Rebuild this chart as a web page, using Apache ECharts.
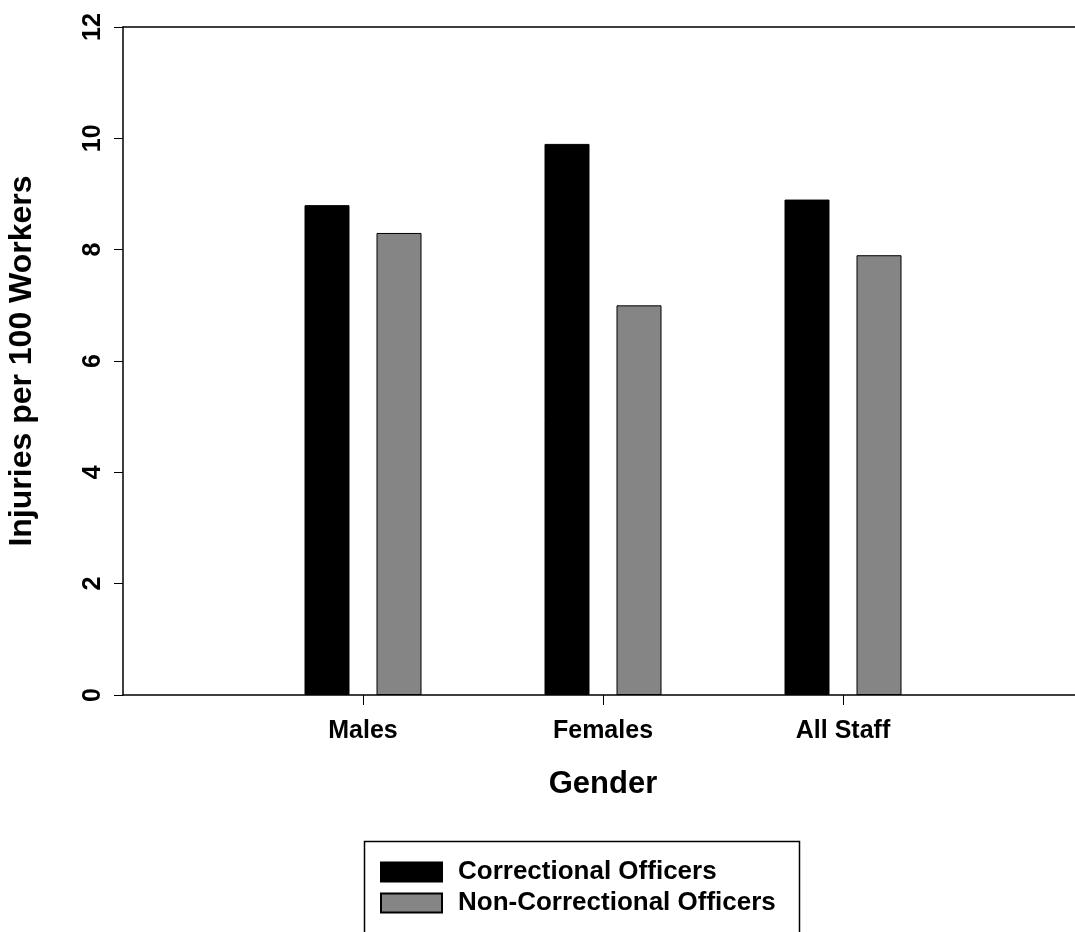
<!DOCTYPE html>
<html>
<head>
<meta charset="utf-8">
<script src="https://cdn.jsdelivr.net/npm/echarts@6/dist/echarts.min.js"></script>
<style>
html,body{margin:0;padding:0;background:#fff;}
#chart{width:1075px;height:932px;}
</style>
</head>
<body>
<div id="chart"></div>
<script>
// Data
const categories = ['', 'Males', 'Females', 'All Staff', ''];
const seriesNames = ['Correctional Officers', 'Non-Correctional Officers'];
const correctionalOfficers = [null, 8.8, 9.9, 8.9, null];
const nonCorrectionalOfficers = [null, 8.3, 7.0, 7.9, null];
const yTicks = [0, 2, 4, 6, 8, 10, 12];

const FONT = '"Liberation Sans", Arial, sans-serif';
const chart = echarts.init(document.getElementById('chart'), null, {renderer: 'canvas'});

chart.setOption({
  animation: false,
  backgroundColor: '#ffffff',
  grid: {
    left: 123, top: 27, width: 960, height: 668,
    outerBoundsMode: 'none',
    containLabel: false,
    show: false
  },
  graphic: [{
    type: 'rect',
    left: 362, top: 839,
    shape: {width: 435, height: 140},
    style: {fill: 'none', stroke: '#000', lineWidth: 1.5},
    silent: true
  }],
  legend: {
    data: seriesNames,
    orient: 'vertical',
    left: 380, top: 859,
    padding: 0,
    itemWidth: 61, itemHeight: 19, itemGap: 5,
    icon: 'rect',
    textStyle: {fontFamily: FONT, fontWeight: 'bold', fontSize: 26, color: '#000', lineHeight: 25, padding: [0, 0, 0, 11]}
  },
  xAxis: [{
    type: 'category',
    data: categories,
    boundaryGap: false,
    name: 'Gender',
    nameLocation: 'middle',
    nameGap: 74,
    nameTextStyle: {fontFamily: FONT, fontWeight: 'bold', fontSize: 31, color: '#000'},
    axisLine: {lineStyle: {color: '#000', width: 1.5}},
    axisTick: {
      show: true, length: 10, lineStyle: {color: '#000', width: 1},
      interval: function (i, v) { return v !== ''; }
    },
    axisLabel: {
      fontFamily: FONT, fontWeight: 'bold', fontSize: 25, color: '#000', margin: 24,
      interval: 0
    },
    splitLine: {show: false}
  }, {
    type: 'category',
    data: categories,
    position: 'top',
    boundaryGap: false,
    axisLine: {show: true, lineStyle: {color: '#000', width: 1.5}},
    axisTick: {show: false},
    axisLabel: {show: false},
    splitLine: {show: false}
  }],
  yAxis: {
    type: 'value',
    min: 0, max: 12, interval: 2,
    name: 'Injuries per 100 Workers',
    nameLocation: 'middle',
    nameGap: 85,
    nameRotate: 90,
    nameTextStyle: {fontFamily: FONT, fontWeight: 'bold', fontSize: 32, color: '#000'},
    axisLine: {show: true, lineStyle: {color: '#000', width: 1.5}},
    axisTick: {show: true, length: 9, lineStyle: {color: '#000', width: 1}},
    axisLabel: {
      fontFamily: FONT, fontWeight: 'bold', fontSize: 25, color: '#000', rotate: 90, margin: 17,
      formatter: function (v) { return yTicks.indexOf(v) >= 0 ? String(v) : ''; }
    },
    splitLine: {show: false}
  },
  series: [
    {
      name: seriesNames[0],
      type: 'bar',
      xAxisIndex: 0,
      data: correctionalOfficers,
      barWidth: 45,
      barGap: '60%',
      itemStyle: {color: '#000000', borderColor: '#000', borderWidth: 1}
    },
    {
      name: seriesNames[1],
      type: 'bar',
      xAxisIndex: 0,
      data: nonCorrectionalOfficers,
      barWidth: 45,
      barGap: '60%',
      itemStyle: {color: '#858585', borderColor: '#000', borderWidth: 1}
    }
  ]
});
</script>
</body>
</html>
